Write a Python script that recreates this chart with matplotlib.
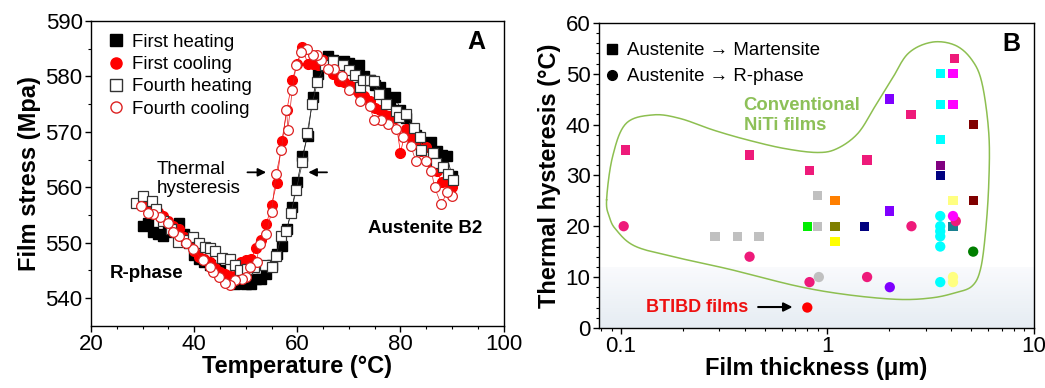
import numpy as np
import matplotlib.pyplot as plt
from matplotlib.lines import Line2D

plt.rcParams['font.family'] = ['Liberation Sans', 'DejaVu Sans']

# ---- Panel A: film stress vs temperature ----
heat1_t = [30, 31, 32, 33, 34, 35, 36, 37, 38, 39, 40, 41, 42, 43, 44, 45, 46, 47, 48, 49,
           50, 51, 52, 53, 54, 55, 56, 57, 58, 59, 60, 61, 62, 63, 64, 65, 66, 67, 68, 69,
           70, 71, 72, 73, 74, 75, 76, 77, 78, 79, 80, 81, 82, 83, 84, 85, 86, 87, 88, 89, 90]
heat1_s = [553, 553.5, 552, 551.5, 551.3, 552.5, 552, 553.5, 551.5, 550, 547.8, 547, 546.5, 546,
           545.5, 545, 544, 543.5, 542.5, 542.7, 542.5, 542.5, 543.4, 543.5, 544.3, 546, 548,
           549.5, 552.5, 556.5, 561, 565.7, 569.2, 576.2, 580.5, 582.5, 583.6, 583, 582.5, 582.8,
           582.5, 581.5, 582, 580, 579.3, 578.5, 578, 577, 575.8, 576.3, 574, 572.5, 570.5, 569.5,
           568.2, 568, 568.2, 566.5, 565.8, 565.6, 562]

cool1_t = [90, 89, 88, 87, 86, 85, 84, 83, 82, 81, 80, 79, 78, 77, 76, 75, 74, 73, 72, 71, 70,
           69, 68, 67, 66, 65, 64, 63, 62, 61, 60, 59, 58, 57, 56, 55, 54, 53, 52, 51, 50, 49,
           48, 47, 46, 45, 44, 43, 42, 41, 40, 39, 38, 37, 36, 35, 34, 33, 32, 31, 30]
cool1_s = [560, 561, 561, 563, 564.5, 567.3, 566.5, 568, 569, 570.5, 566.2, 572.5, 572.8, 573,
           574, 574.3, 575.5, 576.5, 577, 578, 578.5, 579, 579.2, 580.5, 581.5, 583, 582, 582.3,
           582.3, 585.3, 582.3, 579.3, 574, 568.3, 560.7, 556.8, 553.3, 550.5, 549, 547, 546.8,
           546.5, 544, 544, 544.3, 544.8, 545.5, 546.5, 547, 547.5, 548.5, 550, 551, 552.5, 553,
           554, 554.8, 555.5, 556, 556.5, 557]

heat4_t = [28.8, 30, 31.9, 32.7, 34, 35.5, 36.9, 38.5, 39.8, 41, 42.1, 43, 44, 45.5, 46.9, 47.9,
           48.8, 50.2, 51.7, 53.7, 55, 55.9, 56.9, 57.9, 58.8, 59.8, 61, 61.9, 62.9, 63.9, 65.3,
           66.9, 68.8, 70.1, 71.1, 72.1, 72.7, 74, 74.9, 75.9, 77.2, 79.2, 79.8, 81.1, 82.7, 83.7,
           84, 86.3, 86.9, 88.2, 89.2, 90.1]
heat4_s = [557.2, 558.5, 557.5, 556.1, 554, 552.5, 550.1, 550.5, 551.1, 550, 549.3, 549.1, 548.6,
           547.2, 547, 545.9, 545.1, 545.3, 545.6, 545.9, 545.7, 547.7, 551.2, 552.2, 555.4, 559.6,
           564.5, 569.8, 575.1, 579, 582, 582.8, 582.1, 581.1, 580.2, 578, 579.3, 579.4, 579.1,
           576.9, 575.1, 573.7, 572.6, 573.3, 570.7, 569.1, 566.8, 566.1, 564.4, 563.6, 562.4, 561.4]

cool4_t = [90, 89, 87.9, 86.6, 86, 85, 83, 82, 80.5, 79.2, 77.6, 76.3, 74.9, 74, 72.1, 70.1, 68.7,
           67.2, 65.9, 64.6, 63.9, 63, 61.9, 60.8, 59.8, 59, 58.2, 57.9, 56.9, 55.9, 55, 54, 52.7,
           52.1, 50.8, 50.1, 49.2, 47.9, 46.9, 45.9, 44.9, 43.7, 43, 41.7, 39.8, 38.5, 37.1, 35.9,
           35, 33.4, 32.1, 31.1, 29.8]
cool4_s = [558.4, 559.1, 556.9, 560, 562.9, 564.8, 564.7, 567.4, 569.1, 570.6, 571.5, 572.2, 572.1,
           574.6, 575.5, 577.6, 580, 581.3, 581.4, 582.9, 583.8, 583.8, 585, 584.4, 582.1, 577.5,
           570.4, 573.9, 566.8, 562.4, 555.6, 551.6, 549.8, 546.6, 545.6, 543.8, 543.5, 543.2,
           542.4, 542.7, 543.9, 544.7, 545.6, 546.8, 548.9, 549.9, 551.3, 551.9, 553.5, 554.6,
           555.2, 555.4, 556.7]

# ---- Panel B: thermal hysteresis vs film thickness ----
sq_thick = [0.105, 0.42, 0.82, 1.56, 2.55, 4.15,
            0.286, 0.367, 0.466, 0.90, 0.90,
            0.80, 1.09, 1.09, 1.09, 1.51, 2.01, 2.01,
            3.53, 3.53, 3.53, 3.53, 3.53, 4.07, 4.07, 4.07, 4.07, 5.1, 5.1]
sq_hyst = [35, 34, 31, 33, 42, 53,
           18, 18, 18, 26, 20,
           20, 25, 20, 17, 20, 45, 23,
           50, 44, 37, 32, 30, 50, 44, 25, 20, 40, 25]
sq_color = ['#ee1a7a'] * 6 + ['#c0c0c0'] * 5 + \
           ['#00ee00', '#ff7f00', '#7f7f00', '#ffff00', '#00007f', '#7f00ff', '#7f00ff',
            '#00ffff', '#00ffff', '#00ffff', '#800080', '#000080', '#ff00ff', '#ff00ff',
            '#ffff80', '#1a8090', '#800000', '#800000']

ci_thick = [0.103, 0.42, 0.82, 1.56, 2.56, 4.2, 0.91, 2.01,
            3.53, 3.53, 3.53, 3.53, 3.53, 3.53, 4.07, 4.07, 4.07, 5.1, 0.80]
ci_hyst = [20, 14, 9, 10, 20, 21, 10, 8,
           22, 20, 19, 18, 16, 9, 22, 10, 9, 15, 4]
ci_color = ['#ee1a7a'] * 6 + ['#c0c0c0', '#7f00ff'] + ['#00ffff'] * 6 + \
           ['#ff00ff', '#ffff80', '#ffff80', '#007f00', '#ff0000']

# outline of the "conventional NiTi films" region (thickness, hysteresis)
zone_x = [0.0851, 0.091, 0.1057, 0.143, 0.193, 0.281, 0.408, 0.617, 0.897, 1.12, 1.41, 1.70,
          2.05, 2.47, 3.21, 4.17, 5.03, 5.63, 6.07, 6.07, 5.85, 5.53, 5.03, 4.17, 3.21, 2.21,
          1.26, 0.716, 0.338, 0.193, 0.118, 0.0946, 0.0877]
zone_y = [25.2, 33.7, 40.2, 41.9, 41.2, 38.9, 37, 35.3, 34.5, 35.3, 38.3, 43.5,
          48.8, 54, 56.2, 55.6, 52.7, 48.1, 38.3, 28.5, 18.7, 11.5, 8.2, 6.9, 5.9, 5.6,
          6.5, 8.2, 11.5, 13.7, 16, 19.3, 21.9]


def closed_spline(px, py, n=20):
    # Catmull-Rom through the points, closed loop
    px = np.asarray(px, float)
    py = np.asarray(py, float)
    m = len(px)
    outx, outy = [], []
    t = np.linspace(0, 1, n, endpoint=False)
    for i in range(m):
        p0, p1, p2, p3 = [(px[(i + k) % m], py[(i + k) % m]) for k in (-1, 0, 1, 2)]
        for c, o in ((0, outx), (1, outy)):
            a0, a1, a2, a3 = p0[c], p1[c], p2[c], p3[c]
            o.extend(0.5 * (2 * a1 + (-a0 + a2) * t + (2 * a0 - 5 * a1 + 4 * a2 - a3) * t ** 2
                            + (-a0 + 3 * a1 - 3 * a2 + a3) * t ** 3))
    outx.append(outx[0])
    outy.append(outy[0])
    return np.array(outx), np.array(outy)


fig = plt.figure(figsize=(10.45, 3.88), dpi=100)
axA = fig.add_axes([0.087, 0.160, 0.395, 0.786])
axB = fig.add_axes([0.573, 0.155, 0.416, 0.786])

for ax in (axA, axB):
    ax.tick_params(which='major', labelsize=16, direction='out', length=4, width=1, pad=2)
    ax.tick_params(which='minor', direction='out', length=2.5, width=0.8)
    for s in ax.spines.values():
        s.set_linewidth(1)

# Panel A
axA.plot(heat1_t, heat1_s, '-', color='black', lw=0.5, marker='s', ms=6.5,
         mfc='black', mec='black')
axA.plot(cool1_t, cool1_s, '-', color='red', lw=0.5, marker='o', ms=7,
         mfc='red', mec='red')
axA.plot(heat4_t, heat4_s, '-', color='#333333', lw=0.5, marker='s', ms=6.5,
         mfc='white', mec='#333333', mew=0.9)
axA.plot(cool4_t, cool4_s, '-', color='#dd2222', lw=0.5, marker='o', ms=7,
         mfc='white', mec='#dd2222', mew=0.9)
axA.set_xlim(20, 100)
axA.set_ylim(535, 590)
axA.set_xticks([20, 40, 60, 80, 100])
axA.set_xticks(np.arange(25, 100, 5), minor=True)
axA.set_yticks([540, 550, 560, 570, 580, 590])
axA.set_yticks(np.arange(545, 590, 10), minor=True)
axA.set_xlabel('Temperature (\u00b0C)', fontsize=17, fontweight='bold', labelpad=0)
axA.set_ylabel('Film stress (Mpa)', fontsize=17, fontweight='bold', labelpad=3)

ha = [Line2D([], [], ls='none', marker='s', ms=8, mfc='black', mec='black'),
      Line2D([], [], ls='none', marker='o', ms=8, mfc='red', mec='red'),
      Line2D([], [], ls='none', marker='s', ms=8, mfc='white', mec='#333333'),
      Line2D([], [], ls='none', marker='o', ms=8, mfc='white', mec='#dd2222')]
axA.legend(ha, ['First heating', 'First cooling', 'Fourth heating', 'Fourth cooling'],
           loc='upper left', bbox_to_anchor=(0.01, 1.0), frameon=False, fontsize=13.4,
           handlelength=0.8, handletextpad=0.5, labelspacing=0.28, borderaxespad=0.3)
axA.text(0.955, 0.93, 'A', transform=axA.transAxes, fontsize=18, fontweight='bold',
         ha='right', va='center')
axA.text(32.7, 561.5, 'Thermal\nhysteresis', fontsize=13.5, ha='left', va='center',
         linespacing=1.1)
axA.annotate('', xy=(54.5, 562.7), xytext=(49.8, 562.7),
             arrowprops=dict(arrowstyle='-|>', color='black', lw=1.3, mutation_scale=12))
axA.annotate('', xy=(61.6, 562.7), xytext=(66.3, 562.7),
             arrowprops=dict(arrowstyle='-|>', color='black', lw=1.3, mutation_scale=12))
axA.text(23.7, 544.4, 'R-phase', fontsize=13.5, fontweight='bold', va='center')
axA.text(95.9, 552.5, 'Austenite B2', fontsize=13.5, fontweight='bold', va='center', ha='right')

# Panel B
axB.set_xscale('log')
axB.set_xlim(0.078, 10)
axB.set_ylim(0, 60)
nb = 30
c_top = np.array([0.975, 0.98, 0.99])
c_bot = np.array([0.90, 0.925, 0.95])
for i in range(nb):
    f = i / (nb - 1)
    axB.axhspan(12 * i / nb, 12 * (i + 1) / nb, color=c_bot + (c_top - c_bot) * f, lw=0, zorder=0)

zx, zy = closed_spline(np.log10(zone_x), zone_y)
axB.plot(10 ** zx, zy, color='#8dbf50', lw=1.1, zorder=2)

axB.scatter(sq_thick, sq_hyst, marker='s', s=45, c=sq_color, edgecolors='none', zorder=3)
axB.scatter(ci_thick, ci_hyst, marker='o', s=55, c=ci_color, edgecolors='none', zorder=3)

axB.set_yticks([0, 10, 20, 30, 40, 50, 60])
axB.set_yticks(np.arange(2, 60, 2), minor=True)
axB.set_xticks([0.1, 1, 10])
axB.set_xticklabels(['0.1', '1', '10'])
axB.set_xlabel('Film thickness (\u03bcm)', fontsize=17, fontweight='bold', labelpad=0)
axB.set_ylabel('Thermal hysteresis (\u00b0C)', fontsize=17, fontweight='bold', labelpad=3)

hb = [Line2D([], [], ls='none', marker='s', ms=7, color='black'),
      Line2D([], [], ls='none', marker='o', ms=7, color='black')]
axB.legend(hb, ['Austenite \u2192 Martensite', 'Austenite \u2192 R-phase'], loc='upper left',
           frameon=False, fontsize=13.4, handlelength=0.6, handletextpad=0.5,
           labelspacing=0.5, borderaxespad=0.3, bbox_to_anchor=(-0.012, 0.98))
axB.text(0.97, 0.93, 'B', transform=axB.transAxes, fontsize=18, fontweight='bold',
         ha='right', va='center')
axB.text(0.393, 45.5, 'Conventional\nNiTi films', color='#8dc058', fontsize=13.3,
         fontweight='bold', ha='left', va='top', linespacing=1.25)
axB.text(0.1315, 4.1, 'BTIBD films', color='#ee1111', fontsize=13, fontweight='bold',
         ha='left', va='center')
axB.annotate('', xy=(0.70, 4.1), xytext=(0.448, 4.1),
             arrowprops=dict(arrowstyle='-|>', color='black', lw=1.5, mutation_scale=13))

fig.savefig('out.png', dpi=100)
